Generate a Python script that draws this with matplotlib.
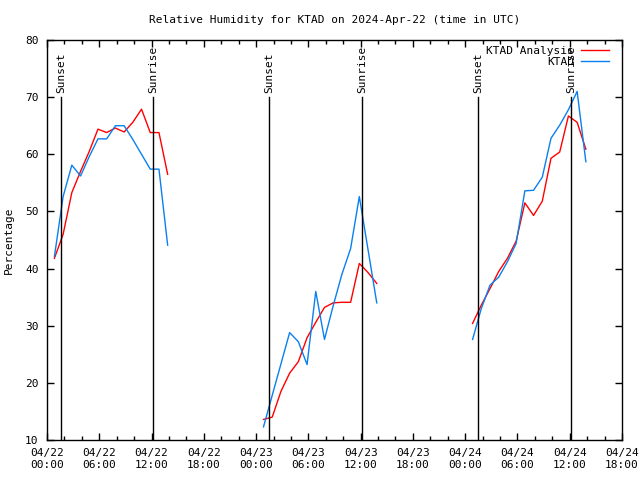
import numpy as np
import matplotlib as mpl
import matplotlib.pyplot as plt
from matplotlib.ticker import MultipleLocator

mpl.rcParams['font.family'] = 'DejaVu Sans Mono'
mpl.rcParams['font.size'] = 8
mpl.rcParams['xtick.direction'] = 'in'
mpl.rcParams['ytick.direction'] = 'in'
mpl.rcParams['xtick.top'] = True
mpl.rcParams['ytick.right'] = True

# ===================== Data (hours since 2024-04-22 00:00 UTC) =====================
hours_day1 = [0.85, 1.85, 2.85, 3.85, 4.85, 5.85, 6.85, 7.85, 8.85, 9.85, 10.85, 11.85, 12.85, 13.85]
analysis_day1 = [41.8, 46.0, 53.3, 57.0, 60.5, 64.4, 63.8, 64.6, 63.9, 65.6, 67.9, 63.8, 63.8, 56.5]
obs_day1 = [42.1, 52.6, 58.1, 56.2, 59.6, 62.7, 62.7, 65.0, 65.0, 62.6, 60.0, 57.4, 57.4, 44.1]

hours_day2 = [24.85, 25.85, 26.85, 27.85, 28.85, 29.85, 30.85, 31.85, 32.85, 33.85, 34.85, 35.85, 36.85, 37.85]
analysis_day2 = [13.6, 14.0, 18.5, 21.7, 23.7, 27.9, 30.6, 33.2, 34.0, 34.1, 34.1, 40.9, 39.3, 37.4]
obs_day2 = [12.3, 17.8, 23.3, 28.8, 27.2, 23.2, 36.0, 27.6, 33.5, 39.0, 43.5, 52.6, 43.3, 34.0]

hours_day3 = [48.85, 49.85, 50.85, 51.85, 52.85, 53.85, 54.85, 55.85, 56.85, 57.85, 58.85, 59.85, 60.85, 61.85]
analysis_day3 = [30.4, 33.6, 36.5, 39.5, 41.8, 44.8, 51.5, 49.3, 51.8, 59.3, 60.4, 66.7, 65.6, 60.9]
obs_day3 = [27.6, 33.0, 37.1, 38.5, 41.2, 44.4, 53.6, 53.7, 56.0, 62.8, 65.1, 67.8, 71.0, 58.7]

sun_hours = [1.6, 12.17, 25.48, 36.15, 49.47, 60.15]
sun_labels = ["Sunset", "Sunrise", "Sunset", "Sunrise", "Sunset", "Sunrise"]

tick_hours = list(range(0, 67, 6))
tick_labels = ["04/22\n00:00", "04/22\n06:00", "04/22\n12:00", "04/22\n18:00",
               "04/23\n00:00", "04/23\n06:00", "04/23\n12:00", "04/23\n18:00",
               "04/24\n00:00", "04/24\n06:00", "04/24\n12:00", "04/24\n18:00"]

red = "#ff0000"
blue = "#0a80f0"

# ===================== Plot =====================
fig = plt.figure(figsize=(6.4, 4.8), dpi=100)
ax = fig.add_axes([47 / 640, 40 / 480, 575 / 640, 400 / 480])

for i, (hrs, an, ob) in enumerate([(hours_day1, analysis_day1, obs_day1),
                                   (hours_day2, analysis_day2, obs_day2),
                                   (hours_day3, analysis_day3, obs_day3)]):
    ax.plot(hrs, an, color=red, lw=1, label="KTAD Analysis" if i == 0 else None)
    ax.plot(hrs, ob, color=blue, lw=1, label="KTAD" if i == 0 else None)

for h, lab in zip(sun_hours, sun_labels):
    ax.plot([h, h], [10, 70], color="black", lw=1)
    ax.text(h, 70.8, lab, rotation=90, ha="center", va="bottom", fontsize=8)

ax.set_xlim(0, 66)
ax.set_ylim(10, 80)
ax.set_xticks(tick_hours)
ax.set_xticklabels(tick_labels)
ax.xaxis.set_minor_locator(MultipleLocator(2))
ax.set_yticks(range(10, 81, 10))
ax.tick_params(which="major", length=5, width=1, pad=6)
ax.tick_params(which="minor", length=3, width=1)
for sp in ax.spines.values():
    sp.set_linewidth(1)

ax.set_ylabel("Percentage", labelpad=8)
ax.set_title("Relative Humidity for KTAD on 2024-Apr-22 (time in UTC)", fontsize=8, pad=12)

leg = ax.legend(loc="upper right", bbox_to_anchor=(0.984, 0.993), frameon=False,
                markerfirst=False, handlelength=2.6, borderaxespad=0.0,
                borderpad=0.3, labelspacing=0.1, handletextpad=0.6, fontsize=8)
leg._legend_box.align = "right"

fig.savefig("out.png", dpi=100)
